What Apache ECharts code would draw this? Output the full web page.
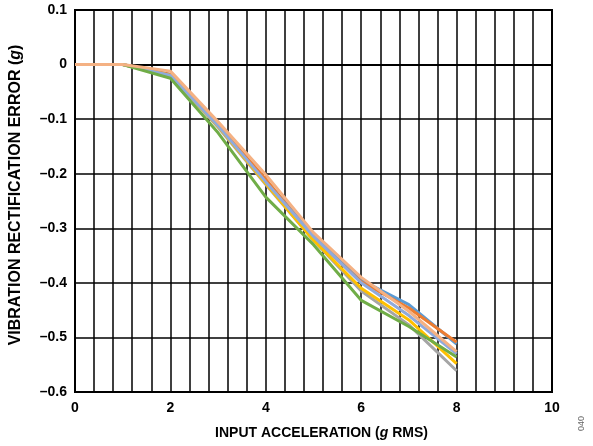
<!DOCTYPE html>
<html>
<head>
<meta charset="utf-8">
<script src="https://cdn.jsdelivr.net/npm/echarts@6/dist/echarts.min.js"></script>
<style>
  html, body { margin: 0; padding: 0; background: #fff; }
  #chart { width: 593px; height: 446px; }
</style>
</head>
<body>
<div id="chart"></div>
<script>
// input acceleration (g rms)
const accel = [0, 1, 2, 3, 4, 5, 6, 7, 8];

// vibration rectification error (g), one array per trace
const vreBlue = [0, 0, -0.018, -0.112, -0.212, -0.312, -0.395, -0.440, -0.512];
const vreOrange = [0, 0, -0.018, -0.110, -0.210, -0.318, -0.398, -0.446, -0.509];
const vreGray = [0, 0, -0.020, -0.115, -0.220, -0.322, -0.415, -0.477, -0.561];
const vreYellow = [0, 0, -0.020, -0.113, -0.218, -0.322, -0.410, -0.468, -0.548];
const vrePeriwinkle = [0, 0, -0.020, -0.112, -0.215, -0.315, -0.400, -0.460, -0.530];
const vreGreen = [0, 0, -0.025, -0.125, -0.243, -0.330, -0.432, -0.480, -0.536];
const vreSalmon = [0, 0, -0.012, -0.105, -0.202, -0.308, -0.390, -0.452, -0.526];

const traces = [
  { data: vreBlue, color: '#5b9bd5' },
  { data: vreOrange, color: '#ed7d31' },
  { data: vreGray, color: '#a5a5a5' },
  { data: vreYellow, color: '#ffc000' },
  { data: vrePeriwinkle, color: '#8faadc' },
  { data: vreGreen, color: '#70ad47' },
  { data: vreSalmon, color: '#f4b183' }
];

const font = 'Liberation Sans, Arial, sans-serif';
const fmtY = v => {
  const r = Math.round(v * 10) / 10;
  if (r === 0) return '0';
  return (r < 0 ? '\u2013' : '') + Math.abs(r).toFixed(1);
};
const titleRich = size => ({
  t: { fontFamily: font, fontWeight: 'bold', fontSize: size, color: '#000' },
  i: { fontFamily: font, fontWeight: 'bold', fontStyle: 'italic', fontSize: size, color: '#000' }
});

const chart = echarts.init(document.getElementById('chart'));
const option = {
  animation: false,
  backgroundColor: '#fff',
  grid: {
    left: 75, right: 41, top: 10, bottom: 54,
    show: true, borderColor: '#000', borderWidth: 2
  },
  xAxis: {
    type: 'value',
    min: 0, max: 10, interval: 2,
    name: '{t|INPUT ACCELERATION (}{i|g}{t| RMS)}',
    nameLocation: 'middle',
    nameGap: 34,
    nameTextStyle: { rich: titleRich(14), padding: [0, 0, 0, 16] },
    axisLine: { show: true, lineStyle: { color: '#000', width: 2 } },
    axisTick: { show: false },
    axisLabel: { fontFamily: font, fontWeight: 'bold', fontSize: 14, color: '#000', margin: 9 },
    splitLine: { show: true, lineStyle: { color: '#000', width: 1.5 } },
    minorTick: { show: false, splitNumber: 5 },
    minorSplitLine: { show: true, lineStyle: { color: '#000', width: 1.5 } }
  },
  yAxis: {
    type: 'value',
    min: -0.6, max: 0.1, interval: 0.1,
    name: '{t|VIBRATION RECTIFICATION ERROR (}{i|g}{t|)}',
    nameLocation: 'middle',
    nameRotate: 90,
    nameGap: 51,
    nameTextStyle: { rich: titleRich(16), padding: [0, 0, 0, 12] },
    axisLine: { show: true, lineStyle: { color: '#000', width: 2 } },
    axisTick: { show: false },
    axisLabel: { fontFamily: font, fontWeight: 'bold', fontSize: 14, color: '#000', margin: 8, formatter: fmtY },
    splitLine: { show: true, lineStyle: { color: '#000', width: 1.5 } }
  },
  graphic: [{
    type: 'text',
    left: 577, top: 416,
    rotation: Math.PI / 2,
    style: { text: '040', fontFamily: font, fontSize: 9, fill: '#666' }
  }],
  series: traces.map(t => ({
    type: 'line',
    data: accel.map((x, i) => [x, t.data[i]]),
    showSymbol: false,
    lineStyle: { color: t.color, width: 3 },
    itemStyle: { color: t.color }
  }))
};
chart.setOption(option);
</script>
</body>
</html>
